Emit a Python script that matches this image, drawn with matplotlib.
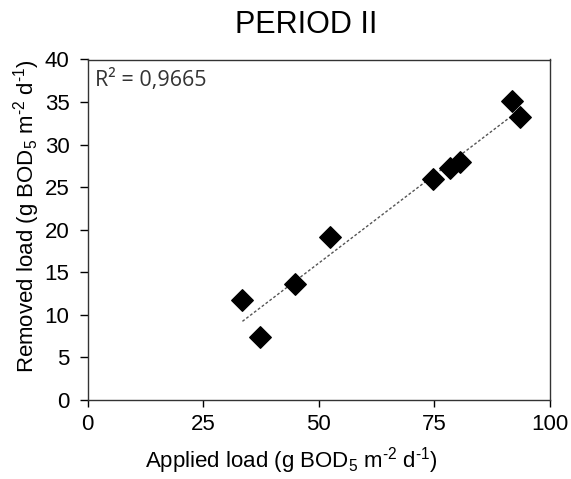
import numpy as np
import matplotlib
matplotlib.use("Agg")
import matplotlib.pyplot as plt

applied = [33.5, 37.3, 44.9, 52.4, 74.6, 78.4, 80.5, 91.7, 93.5]
removed = [11.7, 7.4, 13.6, 19.1, 26.0, 27.2, 28.0, 35.1, 33.3]
r2_label = "R² = 0,9665"
units = r" (g BOD$_{\text{5}}$ m$^{\text{-2}}$ d$^{\text{-1}}$)"

plt.rcParams["font.family"] = ["Liberation Sans", "DejaVu Sans"]
plt.rcParams["mathtext.fontset"] = "custom"
plt.rcParams["mathtext.rm"] = "Liberation Sans"
plt.rcParams["mathtext.it"] = "Liberation Sans:italic"

W, H = 571, 479
fig = plt.figure(figsize=(W / 100, H / 100), dpi=100)
ax = fig.add_axes([87.5 / W, 79 / H, 462.5 / W, 340.5 / H])

x = np.array(applied)
y = np.array(removed)
m, b = np.polyfit(x, y, 1)
xl = np.array([x.min(), x.max()])
ax.plot(xl, m * xl + b, ls=(0, (2, 1.5)), color="#555555", lw=1, zorder=2)
ax.scatter(x, y, marker="D", s=120, color="black", zorder=3)

ax.set_xlim(0, 100)
ax.set_ylim(0, 40)
ax.set_xticks([0, 25, 50, 75, 100])
ax.set_yticks(range(0, 41, 5))
ax.tick_params(labelsize=16, width=1, direction="out")
ax.tick_params(axis="x", length=5, pad=5)
ax.tick_params(axis="y", length=6, pad=7)
for s in ax.spines.values():
    s.set_linewidth(1)
    s.set_color("#333333")

# labels placed in figure pixels, like the original chart
fig.text(291 / W, (H - 467) / H, "Applied load" + units, fontsize=16,
         ha="center", va="baseline")
fig.text(33.5 / W, (H - 216.5) / H, "Removed load" + units, fontsize=16,
         ha="center", va="baseline", rotation=90, rotation_mode="anchor")
fig.text(306 / W, (H - 33) / H, "PERIOD II", fontsize=22,
         ha="center", va="baseline")
ax.text(0.016, 0.972, r2_label, transform=ax.transAxes, ha="left", va="top",
        fontsize=15.5, family=["Open Sans", "DejaVu Sans"], color="#333333")

fig.savefig("out.png", dpi=100)
